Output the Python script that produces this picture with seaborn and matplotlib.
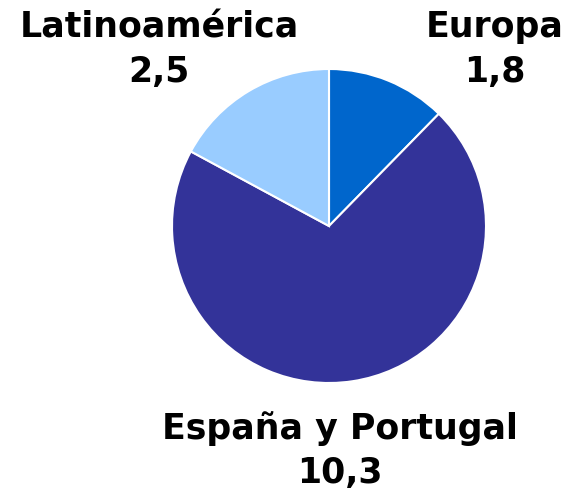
import matplotlib
matplotlib.use("Agg")
import matplotlib.pyplot as plt
import seaborn as sns

sns.set_style("white")
plt.rcParams['font.family'] = ['DejaVu Sans']

# data
regions = ["Europa", "España y Portugal", "Latinoamérica"]
values = [1.8, 10.3, 2.5]
value_labels = ["1,8", "10,3", "2,5"]
colors = ["#0066CC", "#333399", "#99CCFF"]

W, H = 574, 490
fig = plt.figure(figsize=(W / 100, H / 100), dpi=100)
# pie centre ~ (329, 226) px, radius ~157 px
ax = fig.add_axes([(329 - 157) / W, 1 - (226 + 157) / H, 314 / W, 314 / H])
ax.pie(values, colors=colors, startangle=90, counterclock=False,
       wedgeprops=dict(edgecolor="white", linewidth=1.5))
ax.set_xlim(-1, 1)
ax.set_ylim(-1, 1)
ax.set_aspect("equal")
ax.axis("off")

# label positions in pixels: centre x, baseline of name, baseline of value
label_pos = {"Europa": (495, 37, 82),
             "España y Portugal": (340, 439, 483),
             "Latinoamérica": (159, 37, 82)}
for name, lab in zip(regions, value_labels):
    x, y1, y2 = label_pos[name]
    fig.text(x / W, 1 - y1 / H, name, ha="center", va="baseline",
             fontsize=25, fontweight="bold", color="black")
    fig.text(x / W, 1 - y2 / H, lab, ha="center", va="baseline",
             fontsize=25, fontweight="bold", color="black")

fig.savefig("out.png", dpi=100)
